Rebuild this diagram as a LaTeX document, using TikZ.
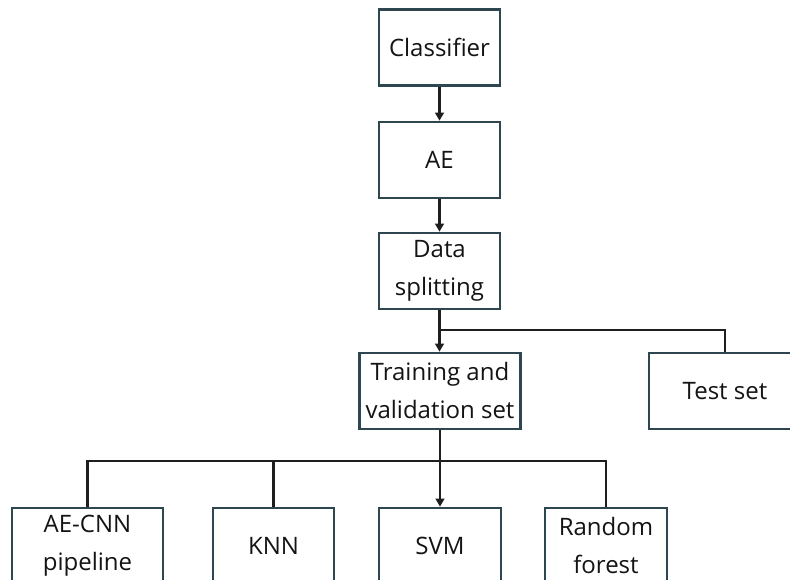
\documentclass[tikz,border=0pt]{standalone}
\usepackage{fontspec}
\setmainfont{Open Sans}
\usetikzlibrary{arrows.meta}
\definecolor{boxline}{HTML}{2E4650}
\definecolor{conn}{HTML}{1E1E1E}
\definecolor{txt}{HTML}{141414}
\begin{document}
\begin{tikzpicture}[x=0.75pt,y=-0.75pt,
  box/.style={draw=boxline,line width=2pt,fill=white,rectangle,inner sep=0pt,
    align=center,text=txt,font=\fontsize{18pt}{28.5pt}\selectfont,
    minimum height=57pt},
  w121/.style={minimum width=90.75pt},
  link/.style={draw=conn,line width=1.7pt},
  arr/.style={link,-{Triangle[length=6pt,width=6.5pt]}}]
\useasboundingbox (0,0) rectangle (790,580);
\clip (0,0) rectangle (790,580);
\node[box,w121] (cls) at (439.5,47.5) {Classifier};
\node[box,w121] (ae) at (439.5,160) {AE};
\node[box,w121] (ds) at (439.5,271) {Data\\splitting};
\node[box,minimum width=120.75pt] (tv) at (440,391) {Training and\\validation set};
\node[box,minimum width=114pt] (ts) at (725,391) {Test set};
\node[box,minimum width=113.25pt] (aecnn) at (87.5,546) {AE-CNN\\pipeline};
\node[box,w121] (knn) at (273.5,546) {KNN};
\node[box,minimum width=91.5pt] (svm) at (440,546) {SVM};
\node[box,minimum width=91.5pt] (rf) at (606,546) {Random\\forest};
\coordinate (j1) at (440,330);
\coordinate (j2) at (440,461);
\draw[arr] (cls.south) -- (ae.north);
\draw[arr] (ae.south) -- (ds.north);
\draw[arr] (ds.south) -- (ds.south |- tv.north);
\draw[link] (j1) -| (ts.north);
\draw[arr] (tv.south) -- (svm.north);
\draw[link] (aecnn.north) -- (aecnn.north |- j2) -- (rf.north |- j2) -- (rf.north);
\draw[link] (knn.north) -- (knn.north |- j2);
\end{tikzpicture}
\end{document}
